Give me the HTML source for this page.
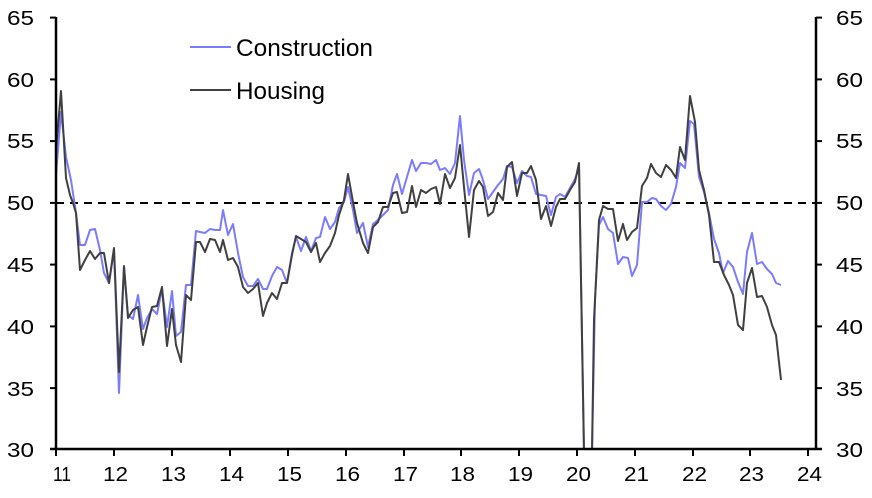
<!DOCTYPE html>
<html><head><meta charset="utf-8"><style>
html,body{margin:0;padding:0;background:#fff;}
svg text{font-family:"Liberation Sans",Arial,sans-serif;font-size:20px;fill:#000;}
svg text.lg{font-size:24px;}
</style></head><body>
<svg width="872" height="493" viewBox="0 0 872 493" xmlns="http://www.w3.org/2000/svg">
<defs><clipPath id="c"><rect x="56" y="0" width="760" height="449"/></clipPath></defs>
<line x1="56" y1="203" x2="816" y2="203" stroke="#000" stroke-width="2" stroke-dasharray="8,6"/>
<g clip-path="url(#c)" fill="none" stroke-width="2" stroke-linejoin="round">
<polyline stroke="#7b7bff" points="56,175 61,112 66,157 71,180 76,213 80,245 85,245 90,230 95,229 100,250 104,273 109,283 114,250 119,393 124,267 128,315 133,319 138,295 143,329 147,318 152,309 157,314 162,289 167,327 172,291 176,336 181,332 186,285 191,285 196,231 200,232 205,233 210,229 215,230 220,230 223,210 228,235 233,224 238,253 243,277 248,286 253,286 258,279 263,289 267,289 272,276 277,267 282,270 287,283 292,253 296,237 301,251 306,237 311,251 316,238 320,237 325,217 330,229 335,222 339,208 344,202 348,187 353,210 357,233 363,223 368,247 373,224 378,220 383,215 388,210 393,185 397,174 402,194 407,177 412,160 416,171 421,163 426,163 431,164 436,160 440,170 445,168 450,174 455,163 460,116 464,160 469,195 474,173 479,169 483,180 488,199 493,192 498,185 503,179 507,166 512,167 517,183 522,171 527,176 531,177 536,194 541,195 546,196 551,215 556,197 560,194 565,197 570,188 575,179 579,168 584,452 592,452 595,300 599,225 603,217 608,229 613,233 618,264 623,257 628,258 632,276 637,265 642,202 647,202 652,198 656,199 661,206 666,210 671,204 676,187 680,163 685,168 690,121 694,124 699,177 704,192 709,213 714,239 719,253 723,273 728,261 733,267 738,282 743,294 747,252 752,233 757,264 762,262 767,269 772,274 776,283 781,285"/>
<polyline stroke="#404040" points="56,150 61,91 66,178 70,195 73,203 76,213 80,270 85,260 90,251 95,259 100,253 104,253 109,283 114,248 119,372 124,266 128,318 133,310 138,307 143,345 147,327 152,307 157,306 162,287 167,346 172,309 176,345 181,362 186,295 191,300 196,242 200,242 205,252 210,239 215,240 220,252 223,240 228,260 233,258 238,267 243,287 248,293 253,289 258,283 263,316 267,303 272,293 277,299 282,283 287,283 292,255 296,236 301,239 306,242 311,252 316,243 320,262 325,253 330,246 335,233 339,215 344,200 348,174 353,202 357,223 363,243 368,253 373,227 378,222 383,207 388,207 393,193 397,192 402,213 407,212 412,186 416,207 421,190 426,193 431,189 436,187 440,204 445,174 450,188 455,178 460,145 464,187 469,237 474,190 479,181 483,187 488,216 493,212 498,193 503,200 507,167 512,162 517,196 522,173 527,173 531,166 536,180 541,219 546,206 551,226 556,207 560,199 565,199 570,190 575,182 579,163 584,452 592,452 594,320 599,220 603,206 608,209 613,209 618,241 623,224 627,240 632,232 637,228 642,186 647,178 651,164 656,173 661,177 666,165 671,170 676,178 680,147 685,160 690,96 695,122 699,170 704,190 709,215 714,262 719,262 724,275 729,285 733,295 738,325 743,330 747,283 752,268 757,297 762,296 767,307 772,325 776,335 781,380"/>
</g>
<g stroke="#000" stroke-width="2.5" fill="none">
<line x1="56" y1="17" x2="56" y2="450"/>
<line x1="816" y1="17" x2="816" y2="450"/>
<line x1="50" y1="449" x2="822" y2="449"/>
</g>
<g stroke="#000" stroke-width="2">
<line x1="50" y1="17.6" x2="56" y2="17.6"/><line x1="50" y1="79.4" x2="56" y2="79.4"/><line x1="50" y1="141.1" x2="56" y2="141.1"/><line x1="50" y1="202.9" x2="56" y2="202.9"/><line x1="50" y1="264.6" x2="56" y2="264.6"/><line x1="50" y1="326.4" x2="56" y2="326.4"/><line x1="50" y1="388.1" x2="56" y2="388.1"/>
<line x1="816" y1="17.6" x2="822" y2="17.6"/><line x1="816" y1="79.4" x2="822" y2="79.4"/><line x1="816" y1="141.1" x2="822" y2="141.1"/><line x1="816" y1="202.9" x2="822" y2="202.9"/><line x1="816" y1="264.6" x2="822" y2="264.6"/><line x1="816" y1="326.4" x2="822" y2="326.4"/><line x1="816" y1="388.1" x2="822" y2="388.1"/>
<line x1="56" y1="449" x2="56" y2="456"/><line x1="114" y1="449" x2="114" y2="456"/><line x1="172" y1="449" x2="172" y2="456"/><line x1="230" y1="449" x2="230" y2="456"/><line x1="288" y1="449" x2="288" y2="456"/><line x1="346" y1="449" x2="346" y2="456"/><line x1="404" y1="449" x2="404" y2="456"/><line x1="461" y1="449" x2="461" y2="456"/><line x1="519" y1="449" x2="519" y2="456"/><line x1="577" y1="449" x2="577" y2="456"/><line x1="635" y1="449" x2="635" y2="456"/><line x1="693" y1="449" x2="693" y2="456"/><line x1="750" y1="449" x2="750" y2="456"/><line x1="808" y1="449" x2="808" y2="456"/>
</g>
<g>
<text x="7" y="25" textLength="27" lengthAdjust="spacingAndGlyphs">65</text><text x="7" y="87" textLength="27" lengthAdjust="spacingAndGlyphs">60</text><text x="7" y="148" textLength="27" lengthAdjust="spacingAndGlyphs">55</text><text x="7" y="210" textLength="27" lengthAdjust="spacingAndGlyphs">50</text><text x="7" y="272" textLength="27" lengthAdjust="spacingAndGlyphs">45</text><text x="7" y="334" textLength="27" lengthAdjust="spacingAndGlyphs">40</text><text x="7" y="396" textLength="27" lengthAdjust="spacingAndGlyphs">35</text><text x="7" y="457" textLength="27" lengthAdjust="spacingAndGlyphs">30</text>
<text x="836" y="25" textLength="27" lengthAdjust="spacingAndGlyphs">65</text><text x="836" y="87" textLength="27" lengthAdjust="spacingAndGlyphs">60</text><text x="836" y="148" textLength="27" lengthAdjust="spacingAndGlyphs">55</text><text x="836" y="210" textLength="27" lengthAdjust="spacingAndGlyphs">50</text><text x="836" y="272" textLength="27" lengthAdjust="spacingAndGlyphs">45</text><text x="836" y="334" textLength="27" lengthAdjust="spacingAndGlyphs">40</text><text x="836" y="396" textLength="27" lengthAdjust="spacingAndGlyphs">35</text><text x="836" y="457" textLength="27" lengthAdjust="spacingAndGlyphs">30</text>
</g>
<g>
<text x="53" y="481" textLength="18" lengthAdjust="spacingAndGlyphs">11</text><text x="103" y="481" textLength="25" lengthAdjust="spacingAndGlyphs">12</text><text x="161" y="481" textLength="25" lengthAdjust="spacingAndGlyphs">13</text><text x="219" y="481" textLength="25" lengthAdjust="spacingAndGlyphs">14</text><text x="277" y="481" textLength="25" lengthAdjust="spacingAndGlyphs">15</text><text x="335" y="481" textLength="25" lengthAdjust="spacingAndGlyphs">16</text><text x="393" y="481" textLength="25" lengthAdjust="spacingAndGlyphs">17</text><text x="450" y="481" textLength="25" lengthAdjust="spacingAndGlyphs">18</text><text x="508" y="481" textLength="25" lengthAdjust="spacingAndGlyphs">19</text><text x="566" y="481" textLength="25" lengthAdjust="spacingAndGlyphs">20</text><text x="624" y="481" textLength="25" lengthAdjust="spacingAndGlyphs">21</text><text x="682" y="481" textLength="25" lengthAdjust="spacingAndGlyphs">22</text><text x="739" y="481" textLength="25" lengthAdjust="spacingAndGlyphs">23</text><text x="797" y="481" textLength="25" lengthAdjust="spacingAndGlyphs">24</text>
</g>
<line x1="190" y1="47" x2="231" y2="47" stroke="#7b7bff" stroke-width="2"/>
<text class="lg" x="236" y="56" textLength="137" lengthAdjust="spacingAndGlyphs">Construction</text>
<line x1="190" y1="90" x2="231" y2="90" stroke="#404040" stroke-width="2"/>
<text class="lg" x="236" y="99" textLength="89" lengthAdjust="spacingAndGlyphs">Housing</text>
</svg>
</body></html>
